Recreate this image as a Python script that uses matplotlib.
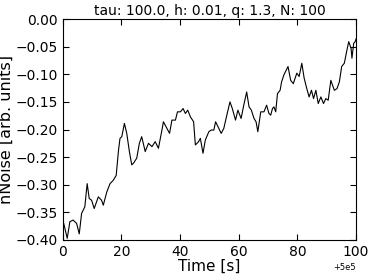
import numpy as np
import matplotlib
matplotlib.use("Agg")
import matplotlib.pyplot as plt

# values (time in s, offset 5e5)
t_offset = 5e5
time = [0.0, 0.3, 1.5, 2.4, 3.5, 4.7, 5.6, 6.4, 7.5, 8.3, 9.0, 9.8, 10.7,
        12.1, 13.2, 13.8, 15.0, 16.1, 17.2, 18.2, 19.0, 19.5, 20.1, 21.0,
        21.8, 22.7, 23.5, 24.1, 25.2, 26.1, 26.9, 28.1, 29.2, 30.4, 31.5,
        32.6, 33.8, 34.3, 35.5, 36.4, 37.2, 38.4, 39.1, 40.1, 41.0, 41.8,
        42.6, 43.5, 44.6, 45.2, 46.3, 46.9, 47.8, 48.6, 49.8, 50.6, 51.5,
        52.1, 53.2, 54.0, 54.9, 55.8, 57.0, 57.8, 58.9, 59.7, 60.8, 61.7,
        62.7, 63.5, 64.3, 65.2, 65.9, 66.5, 67.5, 68.6, 69.5, 70.3, 70.9,
        71.5, 72.0, 72.6, 73.2, 74.1, 74.6, 75.4, 76.8, 77.7, 78.6, 79.8,
        80.6, 81.5, 82.3, 83.2, 84.0, 84.8, 85.5, 86.3, 87.1, 88.0, 88.9,
        89.7, 90.5, 91.4, 92.6, 93.5, 94.3, 95.1, 96.0, 96.9, 97.5, 98.3,
        98.6, 99.2, 99.7, 100.0]
noise = [-0.365, -0.370, -0.397, -0.367, -0.364, -0.370, -0.389, -0.352,
         -0.340, -0.298, -0.325, -0.328, -0.343, -0.322, -0.328, -0.337,
         -0.313, -0.298, -0.292, -0.283, -0.237, -0.216, -0.213, -0.189,
         -0.207, -0.240, -0.264, -0.261, -0.252, -0.225, -0.213, -0.240,
         -0.225, -0.231, -0.222, -0.234, -0.201, -0.186, -0.198, -0.207,
         -0.183, -0.183, -0.168, -0.168, -0.162, -0.171, -0.165, -0.177,
         -0.186, -0.228, -0.222, -0.216, -0.243, -0.219, -0.204, -0.201,
         -0.201, -0.186, -0.198, -0.207, -0.198, -0.177, -0.150, -0.162,
         -0.183, -0.165, -0.180, -0.156, -0.132, -0.159, -0.165, -0.180,
         -0.186, -0.204, -0.168, -0.168, -0.156, -0.171, -0.174, -0.162,
         -0.159, -0.168, -0.135, -0.129, -0.114, -0.101, -0.086, -0.111,
         -0.117, -0.098, -0.104, -0.080, -0.107, -0.126, -0.141, -0.129,
         -0.144, -0.129, -0.153, -0.141, -0.153, -0.144, -0.147, -0.111,
         -0.129, -0.126, -0.114, -0.086, -0.080, -0.056, -0.041, -0.053,
         -0.071, -0.044, -0.041, -0.036]

x = np.array(time) + t_offset
y = np.array(noise)

fig = plt.figure(figsize=(3.74, 2.80), dpi=100)
ax = fig.add_axes([0.168, 0.143, 0.784, 0.789])
ax.plot(x, y, color='k', lw=0.8)

ax.set_xlim(t_offset, t_offset + 100)
ax.set_ylim(-0.40, 0.00)
ax.set_xticks(t_offset + np.arange(0, 101, 20))
ax.set_yticks(np.arange(-0.40, 0.001, 0.05))
ax.ticklabel_format(axis='x', useOffset=t_offset)
ax.tick_params(direction='in', top=True, right=True, labelsize=10, length=4)
ax.set_xlabel('Time [s]', fontsize=11, labelpad=0)
ax.set_ylabel('nNoise [arb. units]', fontsize=11.5, labelpad=1)
ax.set_title('tau: 100.0, h: 0.01, q: 1.3, N: 100', fontsize=10, pad=3)
ax.xaxis.get_offset_text().set_fontsize(6)

fig.savefig('out.png', dpi=100)
